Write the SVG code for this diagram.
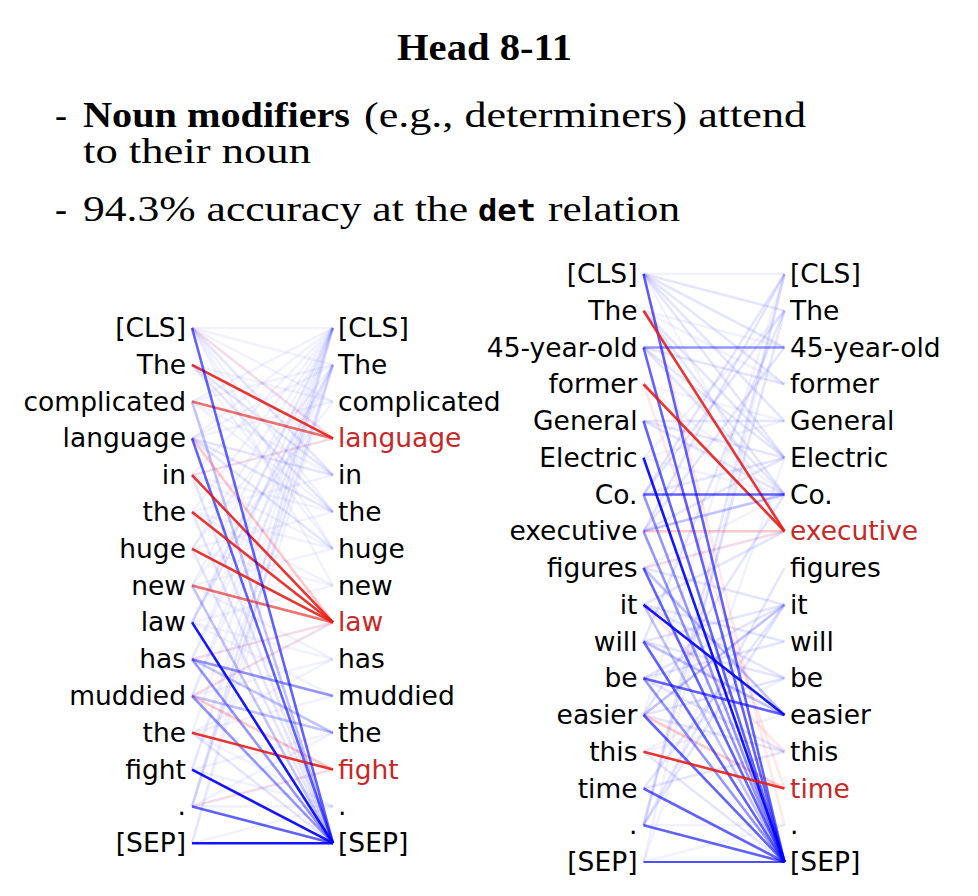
<svg xmlns="http://www.w3.org/2000/svg" width="978" height="896" viewBox="0 0 978 896">
<style>
.t{font-family:"Liberation Serif","Times New Roman",serif;font-size:36px;fill:#000}
.tb{font-weight:bold}
.title{font-size:38px}
.mono{font-family:"DejaVu Sans Mono","Liberation Mono",monospace;font-size:31px;font-weight:bold;fill:#000}
.w{font-family:"DejaVu Sans","Noto Sans",sans-serif;font-size:26.5px;fill:#000}
.wl{text-anchor:end}
.hi{fill:#c62828}
line{stroke-width:2.6;fill:none}
.b1{stroke:#0000ff;stroke-opacity:.92}
.b2{stroke:#0000ff;stroke-opacity:.62}
.b3{stroke:#0000ff;stroke-opacity:.42}
.b4{stroke:#0000ff;stroke-opacity:.24}
.b5{stroke:#0000ff;stroke-opacity:.1}
.b6{stroke:#0000ff;stroke-opacity:.05}
.r1{stroke:#e41a14;stroke-opacity:.88}
.r2{stroke:#e41a14;stroke-opacity:.62}
.r4{stroke:#ff2020;stroke-opacity:.24}
.r5{stroke:#ff2020;stroke-opacity:.1}
.thin{stroke-width:1.4}
</style>
<rect width="978" height="896" fill="#fff"/>
<g id="title">
<text class="t tb title" x="397" y="60" textLength="175" lengthAdjust="spacingAndGlyphs">Head 8-11</text>
</g>
<g id="bullets">
<text class="t" x="55" y="127">-</text>
<text class="t tb" x="83" y="127" textLength="267" lengthAdjust="spacingAndGlyphs">Noun modifiers</text>
<text class="t" x="364" y="127" textLength="442" lengthAdjust="spacingAndGlyphs">(e.g., determiners) attend</text>
<text class="t" x="83" y="163" textLength="228" lengthAdjust="spacingAndGlyphs">to their noun</text>
<text class="t" x="55" y="221">-</text>
<text class="t" x="83" y="221" textLength="385" lengthAdjust="spacingAndGlyphs">94.3% accuracy at the</text>
<text class="mono" x="478" y="221" textLength="58" lengthAdjust="spacingAndGlyphs">det</text>
<text class="t" x="548" y="221" textLength="132" lengthAdjust="spacingAndGlyphs">relation</text>
</g>
<g id="connectors-left">
<line class="b6" x1="192" y1="328" x2="333" y2="364.8"/>
<line class="b6" x1="192" y1="328" x2="333" y2="401.6"/>
<line class="b6" x1="192" y1="328" x2="333" y2="438.4"/>
<line class="b5" x1="192" y1="328" x2="333" y2="475.2"/>
<line class="b6" x1="192" y1="328" x2="333" y2="512"/>
<line class="b6" x1="192" y1="328" x2="333" y2="548.8"/>
<line class="b6" x1="192" y1="328" x2="333" y2="585.6"/>
<line class="b6" x1="192" y1="328" x2="333" y2="328"/>
<line class="r5" x1="192" y1="328" x2="333" y2="438.4"/>
<line class="b5" x1="192" y1="364.8" x2="333" y2="475.2"/>
<line class="b5" x1="192" y1="364.8" x2="333" y2="512"/>
<line class="b6" x1="192" y1="364.8" x2="333" y2="401.6"/>
<line class="b6" x1="192" y1="364.8" x2="333" y2="548.8"/>
<line class="b6" x1="192" y1="401.6" x2="333" y2="475.2"/>
<line class="b6" x1="192" y1="401.6" x2="333" y2="512"/>
<line class="b6" x1="192" y1="401.6" x2="333" y2="364.8"/>
<line class="b6" x1="192" y1="401.6" x2="333" y2="328"/>
<line class="b4" x1="192" y1="401.6" x2="333" y2="843.2"/>
<line class="b5" x1="192" y1="438.4" x2="333" y2="475.2"/>
<line class="b5" x1="192" y1="438.4" x2="333" y2="512"/>
<line class="b5" x1="192" y1="438.4" x2="333" y2="548.8"/>
<line class="b6" x1="192" y1="438.4" x2="333" y2="328"/>
<line class="b6" x1="192" y1="438.4" x2="333" y2="364.8"/>
<line class="b6" x1="192" y1="438.4" x2="333" y2="401.6"/>
<line class="r4" x1="192" y1="438.4" x2="333" y2="622.4"/>
<line class="b6" x1="192" y1="475.2" x2="333" y2="328"/>
<line class="b6" x1="192" y1="475.2" x2="333" y2="438.4"/>
<line class="r5" x1="192" y1="475.2" x2="333" y2="438.4"/>
<line class="b6" x1="192" y1="475.2" x2="333" y2="512"/>
<line class="b6" x1="192" y1="475.2" x2="333" y2="548.8"/>
<line class="b5" x1="192" y1="475.2" x2="333" y2="843.2"/>
<line class="b6" x1="192" y1="512" x2="333" y2="328"/>
<line class="b6" x1="192" y1="512" x2="333" y2="475.2"/>
<line class="b6" x1="192" y1="512" x2="333" y2="548.8"/>
<line class="b6" x1="192" y1="512" x2="333" y2="585.6"/>
<line class="b5" x1="192" y1="512" x2="333" y2="843.2"/>
<line class="b6" x1="192" y1="548.8" x2="333" y2="328"/>
<line class="b6" x1="192" y1="548.8" x2="333" y2="364.8"/>
<line class="b6" x1="192" y1="548.8" x2="333" y2="512"/>
<line class="b6" x1="192" y1="548.8" x2="333" y2="585.6"/>
<line class="b5" x1="192" y1="548.8" x2="333" y2="843.2"/>
<line class="b6" x1="192" y1="585.6" x2="333" y2="328"/>
<line class="b6" x1="192" y1="585.6" x2="333" y2="401.6"/>
<line class="b6" x1="192" y1="585.6" x2="333" y2="548.8"/>
<line class="b6" x1="192" y1="585.6" x2="333" y2="659.2"/>
<line class="b4" x1="192" y1="585.6" x2="333" y2="843.2"/>
<line class="b5" x1="192" y1="622.4" x2="333" y2="364.8"/>
<line class="b5" x1="192" y1="622.4" x2="333" y2="328"/>
<line class="b6" x1="192" y1="622.4" x2="333" y2="585.6"/>
<line class="b6" x1="192" y1="622.4" x2="333" y2="659.2"/>
<line class="b6" x1="192" y1="622.4" x2="333" y2="696"/>
<line class="b3" x1="192" y1="659.2" x2="333" y2="696"/>
<line class="b4" x1="192" y1="659.2" x2="333" y2="732.8"/>
<line class="b3" x1="192" y1="659.2" x2="333" y2="843.2"/>
<line class="b6" x1="192" y1="659.2" x2="333" y2="328"/>
<line class="b6" x1="192" y1="659.2" x2="333" y2="364.8"/>
<line class="b6" x1="192" y1="659.2" x2="333" y2="622.4"/>
<line class="r5" x1="192" y1="659.2" x2="333" y2="622.4"/>
<line class="b4" x1="192" y1="696" x2="333" y2="732.8"/>
<line class="r4" x1="192" y1="696" x2="333" y2="769.6"/>
<line class="b3" x1="192" y1="696" x2="333" y2="843.2"/>
<line class="b6" x1="192" y1="696" x2="333" y2="328"/>
<line class="b6" x1="192" y1="696" x2="333" y2="364.8"/>
<line class="b6" x1="192" y1="696" x2="333" y2="659.2"/>
<line class="b6" x1="192" y1="696" x2="333" y2="622.4"/>
<line class="r5" x1="192" y1="696" x2="333" y2="622.4"/>
<line class="b6" x1="192" y1="732.8" x2="333" y2="328"/>
<line class="b6" x1="192" y1="732.8" x2="333" y2="696"/>
<line class="b6" x1="192" y1="732.8" x2="333" y2="659.2"/>
<line class="b6" x1="192" y1="732.8" x2="333" y2="806.4"/>
<line class="b5" x1="192" y1="732.8" x2="333" y2="843.2"/>
<line class="b6" x1="192" y1="769.6" x2="333" y2="328"/>
<line class="b6" x1="192" y1="769.6" x2="333" y2="364.8"/>
<line class="b6" x1="192" y1="769.6" x2="333" y2="732.8"/>
<line class="b6" x1="192" y1="769.6" x2="333" y2="806.4"/>
<line class="b5" x1="192" y1="806.4" x2="333" y2="364.8"/>
<line class="b5" x1="192" y1="806.4" x2="333" y2="328"/>
<line class="b6" x1="192" y1="806.4" x2="333" y2="769.6"/>
<line class="b6" x1="192" y1="806.4" x2="333" y2="732.8"/>
<line class="b6" x1="192" y1="806.4" x2="333" y2="806.4"/>
<line class="r5" x1="192" y1="806.4" x2="333" y2="769.6"/>
<line class="b6" x1="192" y1="843.2" x2="333" y2="328"/>
<line class="b6" x1="192" y1="843.2" x2="333" y2="364.8"/>
<line class="b6" x1="192" y1="843.2" x2="333" y2="806.4"/>
<line class="r1" x1="192" y1="364.8" x2="333" y2="438.4"/>
<line class="r2" x1="192" y1="401.6" x2="333" y2="438.4"/>
<line class="b2" x1="192" y1="438.4" x2="333" y2="843.2"/>
<line class="r1" x1="192" y1="475.2" x2="333" y2="622.4"/>
<line class="r1" x1="192" y1="512" x2="333" y2="622.4"/>
<line class="r1" x1="192" y1="548.8" x2="333" y2="622.4"/>
<line class="r2" x1="192" y1="585.6" x2="333" y2="622.4"/>
<line class="r1" x1="192" y1="732.8" x2="333" y2="769.6"/>
<line class="b2" x1="192" y1="328" x2="333" y2="843.2"/>
<line class="b1" x1="192" y1="622.4" x2="333" y2="843.2"/>
<line class="b1" x1="192" y1="769.6" x2="333" y2="843.2"/>
<line class="b2" x1="192" y1="806.4" x2="333" y2="843.2"/>
<line class="b1" x1="192" y1="843.2" x2="333" y2="843.2"/>
</g>
<g id="connectors-right">
<line class="b5" x1="643.5" y1="274" x2="784.5" y2="310.75"/>
<line class="b5" x1="643.5" y1="274" x2="784.5" y2="347.5"/>
<line class="b5" x1="643.5" y1="274" x2="784.5" y2="384.25"/>
<line class="b5" x1="643.5" y1="274" x2="784.5" y2="421"/>
<line class="b5" x1="643.5" y1="274" x2="784.5" y2="457.75"/>
<line class="b6" x1="643.5" y1="274" x2="784.5" y2="531.25"/>
<line class="b6" x1="643.5" y1="274" x2="784.5" y2="274"/>
<line class="r5" x1="643.5" y1="274" x2="784.5" y2="825.25"/>
<line class="b5" x1="643.5" y1="310.75" x2="784.5" y2="457.75"/>
<line class="b5" x1="643.5" y1="310.75" x2="784.5" y2="494.5"/>
<line class="b6" x1="643.5" y1="310.75" x2="784.5" y2="347.5"/>
<line class="b6" x1="643.5" y1="310.75" x2="784.5" y2="384.25"/>
<line class="b5" x1="643.5" y1="347.5" x2="784.5" y2="384.25"/>
<line class="b5" x1="643.5" y1="347.5" x2="784.5" y2="457.75"/>
<line class="b5" x1="643.5" y1="347.5" x2="784.5" y2="494.5"/>
<line class="b6" x1="643.5" y1="384.25" x2="784.5" y2="421"/>
<line class="b6" x1="643.5" y1="384.25" x2="784.5" y2="494.5"/>
<line class="r5" x1="643.5" y1="384.25" x2="784.5" y2="788.5"/>
<line class="b5" x1="643.5" y1="421" x2="784.5" y2="421"/>
<line class="b5" x1="643.5" y1="421" x2="784.5" y2="457.75"/>
<line class="b5" x1="643.5" y1="421" x2="784.5" y2="494.5"/>
<line class="b6" x1="643.5" y1="457.75" x2="784.5" y2="494.5"/>
<line class="b6" x1="643.5" y1="457.75" x2="784.5" y2="421"/>
<line class="b6" x1="643.5" y1="457.75" x2="784.5" y2="310.75"/>
<line class="b5" x1="643.5" y1="494.5" x2="784.5" y2="457.75"/>
<line class="b5" x1="643.5" y1="494.5" x2="784.5" y2="310.75"/>
<line class="b5" x1="643.5" y1="494.5" x2="784.5" y2="274"/>
<line class="b5" x1="643.5" y1="531.25" x2="784.5" y2="457.75"/>
<line class="b5" x1="643.5" y1="531.25" x2="784.5" y2="347.5"/>
<line class="b5" x1="643.5" y1="531.25" x2="784.5" y2="274"/>
<line class="r4" x1="643.5" y1="531.25" x2="784.5" y2="531.25"/>
<line class="b6" x1="643.5" y1="568" x2="784.5" y2="531.25"/>
<line class="b6" x1="643.5" y1="568" x2="784.5" y2="494.5"/>
<line class="b5" x1="643.5" y1="568" x2="784.5" y2="604.75"/>
<line class="b4" x1="643.5" y1="568" x2="784.5" y2="715"/>
<line class="r5" x1="643.5" y1="568" x2="784.5" y2="531.25"/>
<line class="b5" x1="643.5" y1="604.75" x2="784.5" y2="531.25"/>
<line class="b5" x1="643.5" y1="604.75" x2="784.5" y2="641.5"/>
<line class="b5" x1="643.5" y1="604.75" x2="784.5" y2="678.25"/>
<line class="r5" x1="643.5" y1="604.75" x2="784.5" y2="751.75"/>
<line class="b5" x1="643.5" y1="641.5" x2="784.5" y2="604.75"/>
<line class="b5" x1="643.5" y1="641.5" x2="784.5" y2="678.25"/>
<line class="b5" x1="643.5" y1="641.5" x2="784.5" y2="310.75"/>
<line class="b4" x1="643.5" y1="641.5" x2="784.5" y2="715"/>
<line class="b5" x1="643.5" y1="678.25" x2="784.5" y2="604.75"/>
<line class="b5" x1="643.5" y1="678.25" x2="784.5" y2="641.5"/>
<line class="b5" x1="643.5" y1="678.25" x2="784.5" y2="751.75"/>
<line class="b4" x1="643.5" y1="715" x2="784.5" y2="604.75"/>
<line class="b5" x1="643.5" y1="715" x2="784.5" y2="678.25"/>
<line class="b5" x1="643.5" y1="715" x2="784.5" y2="751.75"/>
<line class="b5" x1="643.5" y1="715" x2="784.5" y2="494.5"/>
<line class="b6" x1="643.5" y1="715" x2="784.5" y2="274"/>
<line class="r4" x1="643.5" y1="715" x2="784.5" y2="788.5"/>
<line class="b6" x1="643.5" y1="751.75" x2="784.5" y2="715"/>
<line class="b6" x1="643.5" y1="751.75" x2="784.5" y2="678.25"/>
<line class="b5" x1="643.5" y1="751.75" x2="784.5" y2="862"/>
<line class="b5" x1="643.5" y1="788.5" x2="784.5" y2="604.75"/>
<line class="b5" x1="643.5" y1="788.5" x2="784.5" y2="751.75"/>
<line class="b5" x1="643.5" y1="825.25" x2="784.5" y2="604.75"/>
<line class="b5" x1="643.5" y1="825.25" x2="784.5" y2="568"/>
<line class="b5" x1="643.5" y1="825.25" x2="784.5" y2="274"/>
<line class="b5" x1="643.5" y1="825.25" x2="784.5" y2="310.75"/>
<line class="b6" x1="643.5" y1="825.25" x2="784.5" y2="825.25"/>
<line class="b6" x1="643.5" y1="862" x2="784.5" y2="274"/>
<line class="b6" x1="643.5" y1="862" x2="784.5" y2="825.25"/>
<line class="b6" x1="643.5" y1="862" x2="784.5" y2="457.75"/>
<line class="b2" x1="643.5" y1="274" x2="784.5" y2="862"/>
<line class="r1" x1="643.5" y1="310.75" x2="784.5" y2="531.25"/>
<line class="b3" x1="643.5" y1="347.5" x2="784.5" y2="347.5"/>
<line class="b2" x1="643.5" y1="347.5" x2="784.5" y2="862"/>
<line class="r1" x1="643.5" y1="384.25" x2="784.5" y2="531.25"/>
<line class="b2" x1="643.5" y1="421" x2="784.5" y2="862"/>
<line class="b1" x1="643.5" y1="457.75" x2="784.5" y2="862"/>
<line class="b2" x1="643.5" y1="494.5" x2="784.5" y2="494.5"/>
<line class="b3" x1="643.5" y1="494.5" x2="784.5" y2="862"/>
<line class="b4" x1="643.5" y1="531.25" x2="784.5" y2="494.5"/>
<line class="b3" x1="643.5" y1="531.25" x2="784.5" y2="862"/>
<line class="b2" x1="643.5" y1="568" x2="784.5" y2="862"/>
<line class="b1" x1="643.5" y1="604.75" x2="784.5" y2="715"/>
<line class="b4" x1="643.5" y1="604.75" x2="784.5" y2="862"/>
<line class="b2" x1="643.5" y1="641.5" x2="784.5" y2="862"/>
<line class="b2" x1="643.5" y1="678.25" x2="784.5" y2="715"/>
<line class="b3" x1="643.5" y1="678.25" x2="784.5" y2="862"/>
<line class="b2" x1="643.5" y1="715" x2="784.5" y2="862"/>
<line class="r1" x1="643.5" y1="751.75" x2="784.5" y2="788.5"/>
<line class="b2" x1="643.5" y1="788.5" x2="784.5" y2="862"/>
<line class="b2" x1="643.5" y1="825.25" x2="784.5" y2="862"/>
<line class="b1 thin" x1="643.5" y1="862" x2="784.5" y2="862"/>
</g>
<g id="left-tokens-a" class="w wl">
<g id="la0"><text x="186" y="337">[CLS]</text></g>
<g id="la1"><text x="186" y="374">The</text></g>
<g id="la2"><text x="186" y="411">complicated</text></g>
<g id="la3"><text x="186" y="447">language</text></g>
<g id="la4"><text x="186" y="484">in</text></g>
<g id="la5"><text x="186" y="521">the</text></g>
<g id="la6"><text x="186" y="558">huge</text></g>
<g id="la7"><text x="186" y="595">new</text></g>
<g id="la8"><text x="186" y="631">law</text></g>
<g id="la9"><text x="186" y="668">has</text></g>
<g id="la10"><text x="186" y="705">muddied</text></g>
<g id="la11"><text x="186" y="742">the</text></g>
<g id="la12"><text x="186" y="779">fight</text></g>
<g id="la13"><text x="186" y="815">.</text></g>
<g id="la14"><text x="186" y="852">[SEP]</text></g>
</g>
<g id="right-tokens-a" class="w">
<g id="ra0"><text x="338" y="337">[CLS]</text></g>
<g id="ra1"><text x="338" y="374">The</text></g>
<g id="ra2"><text x="338" y="411">complicated</text></g>
<g id="ra3"><text class="hi" x="338" y="447">language</text></g>
<g id="ra4"><text x="338" y="484">in</text></g>
<g id="ra5"><text x="338" y="521">the</text></g>
<g id="ra6"><text x="338" y="558">huge</text></g>
<g id="ra7"><text x="338" y="595">new</text></g>
<g id="ra8"><text class="hi" x="338" y="631">law</text></g>
<g id="ra9"><text x="338" y="668">has</text></g>
<g id="ra10"><text x="338" y="705">muddied</text></g>
<g id="ra11"><text x="338" y="742">the</text></g>
<g id="ra12"><text class="hi" x="338" y="779">fight</text></g>
<g id="ra13"><text x="338" y="815">.</text></g>
<g id="ra14"><text x="338" y="852">[SEP]</text></g>
</g>
<g id="left-tokens-b" class="w wl">
<g id="lb0"><text x="637.5" y="283">[CLS]</text></g>
<g id="lb1"><text x="637.5" y="320">The</text></g>
<g id="lb2"><text x="637.5" y="356.5">45-year-old</text></g>
<g id="lb3"><text x="637.5" y="393">former</text></g>
<g id="lb4"><text x="637.5" y="430">General</text></g>
<g id="lb5"><text x="637.5" y="467">Electric</text></g>
<g id="lb6"><text x="637.5" y="503.5">Co.</text></g>
<g id="lb7"><text x="637.5" y="540">executive</text></g>
<g id="lb8"><text x="637.5" y="577">figures</text></g>
<g id="lb9"><text x="637.5" y="614">it</text></g>
<g id="lb10"><text x="637.5" y="650.5">will</text></g>
<g id="lb11"><text x="637.5" y="687">be</text></g>
<g id="lb12"><text x="637.5" y="724">easier</text></g>
<g id="lb13"><text x="637.5" y="761">this</text></g>
<g id="lb14"><text x="637.5" y="797.5">time</text></g>
<g id="lb15"><text x="637.5" y="834">.</text></g>
<g id="lb16"><text x="637.5" y="871">[SEP]</text></g>
</g>
<g id="right-tokens-b" class="w">
<g id="rb0"><text x="790" y="283">[CLS]</text></g>
<g id="rb1"><text x="790" y="320">The</text></g>
<g id="rb2"><text x="790" y="356.5">45-year-old</text></g>
<g id="rb3"><text x="790" y="393">former</text></g>
<g id="rb4"><text x="790" y="430">General</text></g>
<g id="rb5"><text x="790" y="467">Electric</text></g>
<g id="rb6"><text x="790" y="503.5">Co.</text></g>
<g id="rb7"><text class="hi" x="790" y="540">executive</text></g>
<g id="rb8"><text x="790" y="577">figures</text></g>
<g id="rb9"><text x="790" y="614">it</text></g>
<g id="rb10"><text x="790" y="650.5">will</text></g>
<g id="rb11"><text x="790" y="687">be</text></g>
<g id="rb12"><text x="790" y="724">easier</text></g>
<g id="rb13"><text x="790" y="761">this</text></g>
<g id="rb14"><text class="hi" x="790" y="797.5">time</text></g>
<g id="rb15"><text x="790" y="834">.</text></g>
<g id="rb16"><text x="790" y="871">[SEP]</text></g>
</g>
</svg>
